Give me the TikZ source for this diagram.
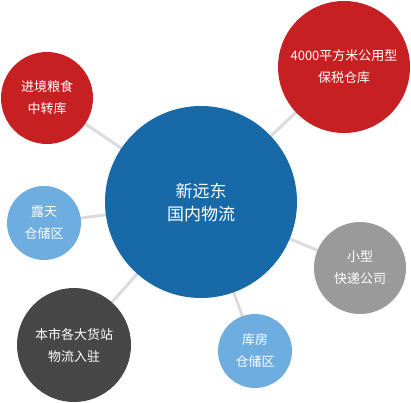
\documentclass[tikz,border=0pt]{standalone}
\usepackage{fontspec}
\setmainfont{Noto Sans CJK SC}
\definecolor{cred}{HTML}{C72023}
\definecolor{cblue}{HTML}{1769A8}
\definecolor{clight}{HTML}{6EADE0}
\definecolor{cgray}{HTML}{9A9A9A}
\definecolor{cdark}{HTML}{474748}
\definecolor{cline}{HTML}{DCDCDC}
\begin{document}
\begin{tikzpicture}[x=1pt,y=-1pt,
  bubble/.style={circle,inner sep=0pt,text=white,align=center},
  link/.style={draw=cline,line width=3pt}]
\useasboundingbox (0,0) rectangle (411,402);
\coordinate (c) at (201,202);
\coordinate (a) at (47,98);
\coordinate (b) at (344,67);
\coordinate (d) at (44,223);
\coordinate (e) at (360,268);
\coordinate (f) at (74,345);
\coordinate (g) at (255,351);
\foreach \t in {a,b,d,e,f,g} \draw[link] (c) -- (\t);
\fill[cblue] (c) circle (96);
\fill[cred] (a) circle (46);
\fill[cred] (b) circle (66);
\fill[clight] (d) circle (37);
\fill[cgray] (e) circle (46);
\fill[cdark] (f) circle (57);
\fill[clight] (g) circle (37);
\node[bubble,font=\fontsize{17}{23}\selectfont] (nc) at (c) {新远东\\国内物流};
\node[bubble,font=\fontsize{13}{22}\selectfont] (na) at (a) {进境粮食\\中转库};
\node[bubble,font=\fontsize{13}{22}\selectfont] (nb) at (b) {4000平方米公用型\\保税仓库};
\node[bubble,font=\fontsize{13}{22}\selectfont] (nd) at (d) {露天\\仓储区};
\node[bubble,font=\fontsize{13}{22}\selectfont] (ne) at (e) {小型\\快递公司};
\node[bubble,font=\fontsize{13}{22}\selectfont] (nf) at (f) {本市各大货站\\物流入驻};
\node[bubble,font=\fontsize{13}{22}\selectfont] (ng) at (g) {库房\\仓储区};
\end{tikzpicture}
\end{document}
